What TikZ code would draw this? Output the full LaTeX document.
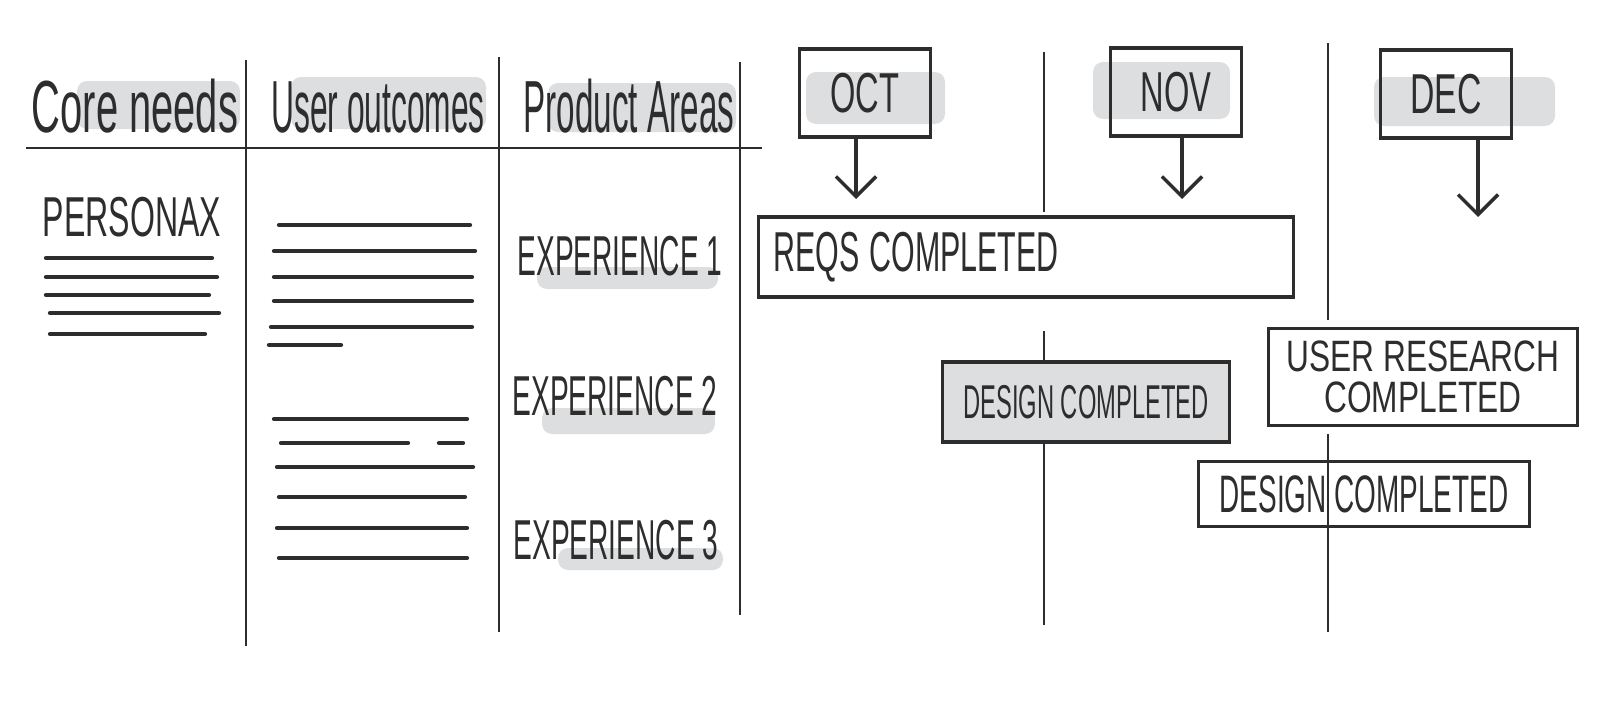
\documentclass[tikz,border=0pt]{standalone}
\usepackage{fontspec}
\setmainfont{Liberation Sans}
\usepackage{graphicx}
\usetikzlibrary{positioning, arrows.meta}
\definecolor{inkgrey}{RGB}{45,45,45}
\definecolor{markergrey}{RGB}{221,222,224}
\newcommand{\narrow}[2][0.55]{\scalebox{#1}[1]{#2}}

\begin{document}
\begin{tikzpicture}[x=0.01cm, y=-0.01cm, >={Straight Barb[length=0.2cm, width=0.4cm]},
  ink/.style={draw=inkgrey, line width=1pt},
  rule/.style={draw=inkgrey, line width=0.75pt},
  scribble/.style={draw=inkgrey, line width=1.2pt, line cap=round},
  marker/.style={fill=markergrey, rounded corners=0.1cm},
  headtxt/.style={text=inkgrey, inner sep=0pt, font=\fontsize{21}{24}\selectfont},
  hand/.style={text=inkgrey, inner sep=0pt, font=\fontsize{16}{19}\selectfont},
  monthbox/.style={ink, hand, minimum width=1.31cm, minimum height=0.88cm},
  taskbox/.style={ink, hand}]
  \useasboundingbox (0,0) rectangle (1620,712);
  % highlighter marks
  \fill[marker] (77,81) rectangle (240,129);
  \fill[marker] (291,77) rectangle (486,129);
  \fill[marker] (548,83) rectangle (736,132);
  \fill[marker] (537,267) rectangle (718,289);
  \fill[marker] (542,408) rectangle (715,434);
  \fill[marker] (558,548) rectangle (723,570);
  \fill[marker] (806,72) rectangle (945,124);
  \fill[marker] (1093,62) rectangle (1230,119);
  \fill[marker] (1374,77) rectangle (1555,126);
  % table rules
  \draw[rule] (26,148) -- (762,148);
  \draw[rule] (246,60) -- (246,646);
  \draw[rule] (499,57) -- (499,632);
  \draw[rule] (740,62) -- (740,615);
  \draw[rule] (1044,52) -- (1044,212);
  \draw[rule] (1044,331) -- (1044,625);
  \draw[rule] (1328,43) -- (1328,320);
  % headers
  \node[headtxt, anchor=base] (core) at (135,133) {\narrow[0.54]{Core needs}};
  \node[headtxt, anchor=base] (outcomes) at (378,133) {\narrow[0.43]{User outcomes}};
  \node[headtxt, anchor=base] (areas) at (629,133) {\narrow[0.45]{Product Areas}};
  % persona column
  \node[hand] (persona) at (132,217) {\narrow[0.57]{PERSONAX}};
  \foreach \y/\a/\b in {258/46/212, 277/46/217, 295/46/209, 313/50/219, 334/50/205}
    \draw[scribble] (\a,\y) -- (\b,\y);
  % user outcomes column
  \foreach \y/\a/\b in {225/279/470, 251/274/475, 277/274/472, 301/274/472, 327/271/472,
      345/269/341, 419/274/467, 443/281/408, 443/439/463, 467/277/473, 497/279/465,
      528/277/467, 558/279/467}
    \draw[scribble] (\a,\y) -- (\b,\y);
  % product areas
  \node[hand] (exp1) at (620,256) {\narrow[0.5]{EXPERIENCE 1}};
  \node[hand] (exp2) at (615,396) {\narrow[0.5]{EXPERIENCE 2}};
  \node[hand] (exp3) at (616,540) {\narrow[0.5]{EXPERIENCE 3}};
  % months
  \node[monthbox] (oct) at (865,93) {\narrow[0.58]{OCT}};
  \node[monthbox] (nov) at (1176,92) {\narrow[0.58]{NOV}};
  \node[monthbox] (dec) at (1446,94) {\narrow[0.6]{DEC}};
  \coordinate (octtip) at (856,199);
  \coordinate (novtip) at (1182,199);
  \coordinate (dectip) at (1478,217);
  \draw[ink, ->] (oct.south -| octtip) -- (octtip);
  \draw[ink, ->] (nov.south -| novtip) -- (novtip);
  \draw[ink, ->] (dec.south -| dectip) -- (dectip);
  % milestones
  \node[taskbox, minimum width=5.35cm, minimum height=0.8cm, text width=5.05cm, align=left]
    (reqs) at (1026,257) {\narrow[0.54]{REQS COMPLETED}};
  \node[taskbox, fill=markergrey, minimum width=2.87cm, minimum height=0.8cm,
    font=\fontsize{13.5}{16}\selectfont] (design) at (1086,402) {\narrow[0.5]{DESIGN COMPLETED}};
  \node[taskbox, minimum width=3.09cm, minimum height=0.97cm, align=center,
    font=\fontsize{12.5}{11.5}\selectfont] (research) at (1423,377)
    {\narrow[0.72]{USER RESEARCH}\\\narrow[0.72]{COMPLETED}};
  \node[taskbox, minimum width=3.31cm, minimum height=0.65cm,
    font=\fontsize{15}{18}\selectfont] (design2) at (1364,494) {\narrow[0.53]{DESIGN COMPLETED}};
  \draw[rule] (1328,434) -- (1328,632);
\end{tikzpicture}
\end{document}
